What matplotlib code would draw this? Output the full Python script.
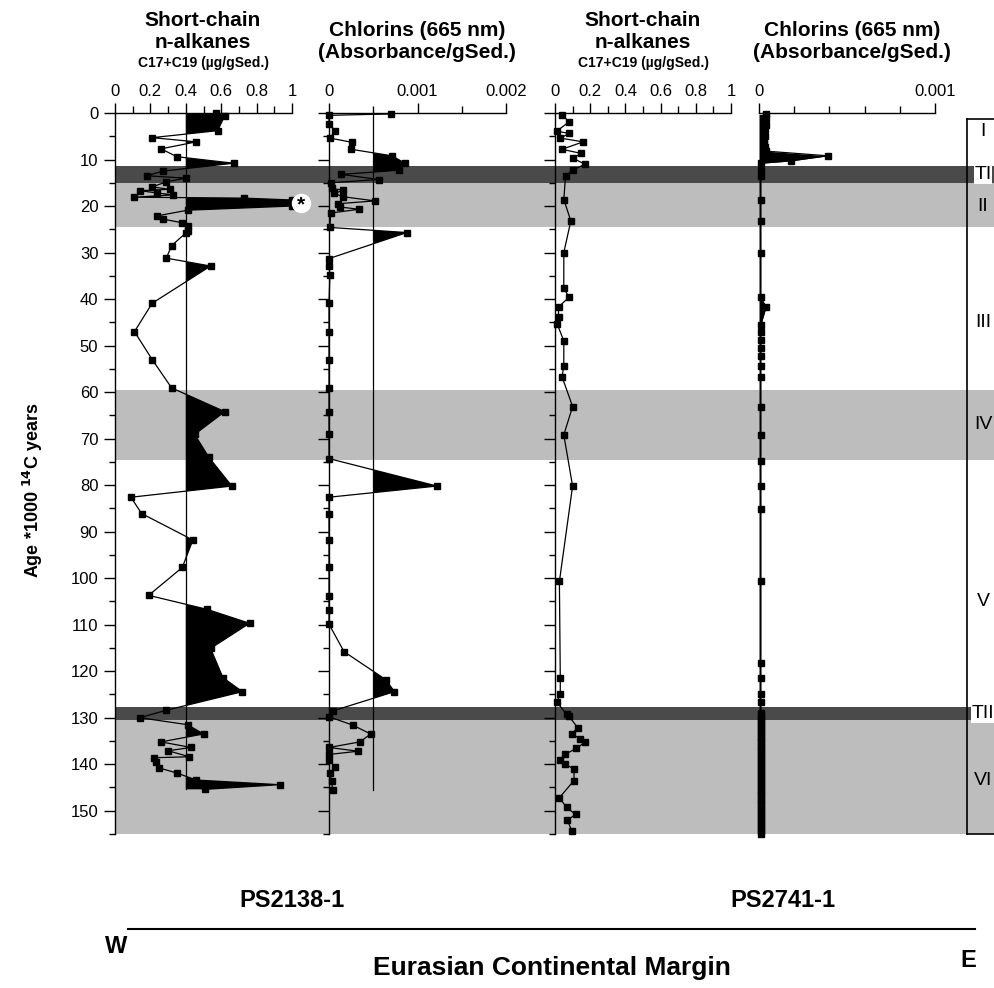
import numpy as np
import matplotlib
matplotlib.use("Agg")
import matplotlib.pyplot as plt
from matplotlib.ticker import MultipleLocator, FixedLocator

plt.rcParams['font.family'] = ['Liberation Sans', 'DejaVu Sans']

# ---------------- data ----------------
# PS2138-1 short-chain n-alkanes (ug/gSed)
p1_age = [0.0, 0.6, 3.8, 5.3, 6.2, 7.7, 9.4, 10.8, 12.5, 13.5, 14.0, 14.8, 15.9, 16.4, 16.7,
          17.2, 17.6, 18.1, 18.3, 18.7, 20.0, 20.9, 22.1, 22.8, 23.6, 24.3, 25.4, 25.8, 28.5,
          31.2, 32.9, 40.9, 47.0, 53.0, 59.1, 64.2, 69.1, 74.0, 80.2, 82.6, 86.1, 91.8, 97.7,
          103.7, 106.7, 109.7, 115.1, 121.4, 124.4, 128.4, 130.0, 131.5, 133.5, 135.2, 136.4,
          137.1, 138.4, 138.6, 139.6, 140.8, 141.9, 143.4, 144.4, 145.4]
p1_val = [0.57, 0.62, 0.58, 0.21, 0.46, 0.26, 0.35, 0.67, 0.27, 0.18, 0.40, 0.29, 0.21, 0.31, 0.14,
          0.24, 0.33, 0.11, 0.73, 1.0, 1.0, 0.41, 0.24, 0.27, 0.38, 0.41, 0.41, 0.40, 0.32,
          0.29, 0.54, 0.21, 0.11, 0.21, 0.32, 0.62, 0.45, 0.53, 0.66, 0.09, 0.15, 0.44, 0.38,
          0.19, 0.52, 0.76, 0.54, 0.61, 0.72, 0.29, 0.14, 0.41, 0.50, 0.26, 0.43,
          0.30, 0.42, 0.22, 0.23, 0.25, 0.35, 0.46, 0.93, 0.51]
p1_ref = 0.4

# PS2138-1 chlorins (absorbance/gSed)
p2_age = [0.2, 0.5, 2.4, 3.8, 5.4, 6.3, 7.8, 9.2, 10.8, 12.3, 13.2, 14.3, 15.0, 16.2, 16.6,
          17.3, 18.0, 18.9, 19.5, 20.2, 20.7, 21.5, 24.6, 25.7, 31.3, 32.8, 34.8, 40.9, 47.0,
          53.1, 59.1, 64.2, 69.1, 74.3, 80.2, 82.6, 86.2, 91.8, 97.7, 103.8, 106.9, 109.9,
          115.8, 121.8, 124.4, 128.5, 129.8, 131.6, 133.5, 135.2, 136.4, 137.2, 137.9, 139.1,
          140.7, 141.9, 143.7, 145.5]
p2_val = [0.00070, 0.0, 0.0, 0.00007, 0.00001, 0.00026, 0.00025, 0.00071, 0.00086, 0.00079,
          0.00014, 0.00056, 0.00002, 0.00003, 0.00016, 0.00006, 0.00016, 0.00052, 0.00010,
          0.00012, 0.00034, 0.00002, 0.00001, 0.00088, 0.0, 0.0, 0.00001, 0.0, 0.0,
          0.0, 0.0, 0.0, 0.0, 0.0, 0.00122, 0.0, 0.0, 0.0, 0.0, 0.0, 0.0, 0.0,
          0.00017, 0.00064, 0.00074, 0.00005, 0.0, 0.00027, 0.00047, 0.00035, 0.0, 0.00033,
          0.0, 0.0, 0.00007, 0.00001, 0.00003, 0.00004]
p2_ref = 0.0005

# PS2741-1 short-chain n-alkanes
p3_age = [0.4, 1.9, 3.9, 4.4, 5.4, 6.2, 7.8, 8.7, 9.7, 11.0, 12.3, 13.5, 18.6, 23.2, 30.0,
          37.7, 39.6, 41.7, 43.8, 45.4, 49.0, 54.4, 56.7, 63.1, 69.2, 80.2, 100.7, 121.4,
          124.9, 126.6, 129.3, 129.7, 132.2, 133.4, 134.5, 135.3, 136.6, 137.9, 139.1, 140.0,
          141.0, 143.5, 147.2, 149.3, 150.8, 152.0, 154.3]
p3_val = [0.04, 0.08, 0.01, 0.08, 0.03, 0.16, 0.04, 0.15, 0.10, 0.17, 0.10, 0.06, 0.05, 0.09,
          0.05, 0.05, 0.08, 0.02, 0.02, 0.013, 0.05, 0.05, 0.04, 0.10, 0.05, 0.10, 0.025, 0.03,
          0.03, 0.01, 0.066, 0.08, 0.13, 0.095, 0.14, 0.17, 0.12, 0.057, 0.028, 0.057,
          0.108, 0.108, 0.025, 0.066, 0.118, 0.07, 0.095]

# PS2741-1 chlorins
p4_age = [0.3, 1.0, 1.8, 2.6, 3.4, 4.2, 5.0, 5.8, 6.6, 7.4, 8.2, 9.2, 10.3, 10.8, 12.3, 13.5,
          18.6, 23.2, 30.2, 39.6, 41.7, 45.6, 47.1, 48.8, 50.6, 52.3, 54.4, 56.7, 63.1, 69.2,
          74.9, 80.2, 85.1, 100.6, 118.3, 121.4, 124.9, 126.6, 129.0, 129.6, 130.3, 130.9,
          131.5, 132.2, 132.8, 133.4, 134.1, 134.7, 135.3, 136.0, 136.6, 137.2, 137.9, 138.5,
          139.1, 139.8, 140.4, 141.0, 141.7, 142.3, 142.9, 143.6, 144.2, 144.8, 145.5, 146.1,
          146.7, 147.4, 148.0, 148.6, 149.3, 149.9, 150.5, 151.2, 151.8, 152.4, 153.1, 153.7,
          154.3, 155.0]
p4_val = [0.00004, 0.00004, 0.000035, 0.00004, 0.000035, 0.00003, 0.000035, 0.00003, 0.00003,
          0.000035, 0.00004, 0.00039, 0.00018, 0.00001, 0.00001, 0.00001, 0.00001, 0.00001,
          0.00001, 0.00001, 0.00004, 0.00001, 0.00001, 0.00001, 0.00001, 0.00001, 0.00001,
          0.00001, 0.00001, 0.00001, 0.00001, 0.00001, 0.00001, 0.00001, 0.00001, 0.00001,
          0.00001, 0.00001] + [0.00001] * 42

# climatic stages (age bands) and labels
dark_bands = [(11.5, 15.1), (127.8, 130.5)]
light_bands = [(15.1, 24.5), (59.5, 74.5), (130.5, 155.0)]
stage_labels = ['I', 'TI', 'II', 'III', 'IV', 'V', 'TII', 'VI']
stage_ages = [4.0, 13.3, 20.0, 45.0, 67.0, 105.0, 129.2, 143.5]

age_ticks = list(range(0, 151, 10))

# ---------------- layout ----------------
W, H = 994, 988
fig = plt.figure(figsize=(W / 100, H / 100), dpi=100)
Y0, Y1 = 113, 834
AGE_MAX = 155


def px_axes(x0, x1, y0=Y0, y1=Y1, **kw):
    return fig.add_axes([x0 / W, 1 - y1 / H, (x1 - x0) / W, (y1 - y0) / H], **kw)


# background bands
bg = px_axes(116, 994)
bg.set_xlim(116, 994)
bg.set_ylim(AGE_MAX, 0)
bg.axis('off')
for a, b in dark_bands:
    bg.axhspan(a, b, color='#4a4a4a', lw=0)
for a, b in light_bands:
    bg.axhspan(a, b, color='#bdbdbd', lw=0)
# stage column box
bg.plot([967, 967], [1.3, AGE_MAX], color='k', lw=1.2, clip_on=False)
bg.plot([967, 994], [1.3, 1.3], color='k', lw=1.2, clip_on=False)
bg.plot([967, 994], [AGE_MAX, AGE_MAX], color='k', lw=1.2, clip_on=False)
for lab, ag in zip(stage_labels, stage_ages):
    kw = {}
    if lab.startswith('T'):
        kw['bbox'] = dict(facecolor='white', edgecolor='none', pad=0.5)
    bg.text(983, ag, lab, ha='center', va='center', fontsize=14, **kw)


def style_axis(ax, xlim, major, minor, labels, yticks=True, ylabels=False, left=True):
    ax.set_facecolor('none')
    ax.set_xlim(*xlim)
    ax.set_ylim(AGE_MAX, 0)
    for s in ['right', 'bottom']:
        ax.spines[s].set_visible(False)
    ax.spines['left'].set_visible(left)
    ax.spines['top'].set_linewidth(1.0)
    ax.spines['left'].set_linewidth(1.0)
    ax.xaxis.tick_top()
    ax.xaxis.set_major_locator(FixedLocator(major))
    ax.xaxis.set_minor_locator(FixedLocator(minor))
    ax.set_xticklabels(labels)
    ax.tick_params(axis='x', which='major', direction='out', length=7, width=1,
                   labelsize=12, pad=3)
    ax.tick_params(axis='x', which='minor', direction='out', length=5, width=1)
    if yticks:
        ax.yaxis.set_major_locator(FixedLocator(age_ticks))
        ax.yaxis.set_minor_locator(MultipleLocator(5))
        ax.tick_params(axis='y', which='major', direction='out', length=8, width=1,
                       labelsize=12, pad=4, labelleft=ylabels)
        ax.tick_params(axis='y', which='minor', direction='out', length=4, width=1)
    else:
        ax.set_yticks([])


def draw_series(ax, vals, ages, ref=None, fill_base=None):
    vals = np.asarray(vals, float)
    ages = np.asarray(ages, float)
    if ref is not None:
        ax.fill_betweenx(ages, ref, vals, where=vals > ref, interpolate=True,
                         color='k', lw=0)
        ax.plot([ref, ref], [0, ages[-1]], color='k', lw=0.9)
    if fill_base is not None:
        ax.fill_betweenx(ages, fill_base, vals, color='k', lw=0)
    ax.plot(vals, ages, '-', color='k', lw=0.9, clip_on=False)
    ax.plot(vals, ages, 's', color='k', ms=4.5, clip_on=False)


# panel 1
ax1 = px_axes(115, 292)
style_axis(ax1, (0, 1), [0, 0.2, 0.4, 0.6, 0.8, 1.0], [0.1, 0.3, 0.5, 0.7, 0.9],
           ['0', '0.2', '0.4', '0.6', '0.8', '1'], ylabels=True)
draw_series(ax1, p1_val, p1_age, ref=p1_ref)
ax1.plot([1.05], [19.4], 'o', ms=13, mfc='white', mec='white', clip_on=False)
ax1.text(1.05, 19.8, '*', ha='center', va='center', fontsize=15, fontweight='bold',
         clip_on=False)

# panel 2
ax2 = px_axes(329, 506)
style_axis(ax2, (0, 0.002), [0, 0.001, 0.002], [0.0005, 0.0015],
           ['0', '0.001', '0.002'])
draw_series(ax2, p2_val, p2_age, ref=p2_ref)

# panel 3
ax3 = px_axes(555, 731)
style_axis(ax3, (0, 1), [0, 0.2, 0.4, 0.6, 0.8, 1.0], [0.1, 0.3, 0.5, 0.7, 0.9],
           ['0', '0.2', '0.4', '0.6', '0.8', '1'])
draw_series(ax3, p3_val, p3_age)

# panel 4
ax4 = px_axes(759, 935)
style_axis(ax4, (0, 0.001), [0, 0.001], [0.0002, 0.0004, 0.0006, 0.0008],
           ['0', '0.001'], yticks=False, left=False)
draw_series(ax4, p4_val, p4_age, fill_base=0.0)


# titles
def ftext(x, y, s, **kw):
    fig.text(x / W, 1 - y / H, s, ha='center', va='center', **kw)


for cx in (203, 643):
    ftext(cx, 21, 'Short-chain', fontsize=15, fontweight='bold')
    ftext(cx, 43, 'n-alkanes', fontsize=15, fontweight='bold')
    ftext(cx, 63, 'C17+C19 (\u00b5g/gSed.)', fontsize=10, fontweight='bold')
for cx in (417, 852):
    ftext(cx, 30, 'Chlorins (665 nm)', fontsize=15, fontweight='bold')
    ftext(cx, 52, '(Absorbance/gSed.)', fontsize=15, fontweight='bold')

ftext(33, 490, r'Age *1000 $^{\mathbf{14}}$C years', fontsize=13, fontweight='bold',
      rotation=90)

# bottom annotations
ftext(292, 900, 'PS2138-1', fontsize=17, fontweight='bold')
ftext(783, 900, 'PS2741-1', fontsize=17, fontweight='bold')
fig.add_artist(plt.Line2D([128 / W, 975 / W], [1 - 929 / H, 1 - 929 / H], color='k', lw=1.5))
ftext(116, 946, 'W', fontsize=17, fontweight='bold')
ftext(968, 960, 'E', fontsize=17, fontweight='bold')
ftext(552, 968, 'Eurasian Continental Margin', fontsize=19, fontweight='bold')

fig.savefig('out.png', dpi=100)
